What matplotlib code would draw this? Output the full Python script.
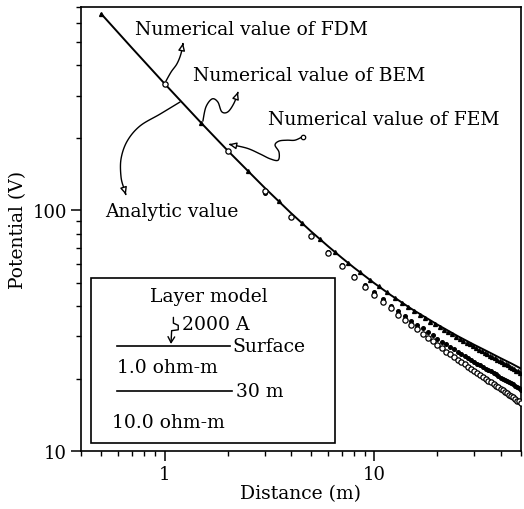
import matplotlib
matplotlib.use("Agg")
import matplotlib.pyplot as plt
import numpy as np
from matplotlib.patches import FancyArrowPatch, Rectangle
from matplotlib.path import Path
from matplotlib.ticker import NullFormatter

plt.rcParams["font.family"] = ["DejaVu Serif"]

# ---- data (distance in m, potential in V) ----
R_ANALYTIC = [0.5, 0.7, 1, 1.5, 2, 3, 4, 5, 6, 7, 8, 10, 12, 15, 20, 25, 30, 35, 40, 45, 50]
V_ANALYTIC = [654.7, 472.8, 336.4, 230.3, 177.2, 124.2, 97.6, 81.7, 71.1, 63.5, 57.8,
              49.8, 44.4, 39.0, 33.5, 30.0, 27.6, 25.8, 24.3, 23.1, 22.0]

# numerical series sampled every 1 m
R_INT = list(range(1, 51))
V_OPEN = [336.4, 176.3, 120.5, 94.2, 78.0, 66.8, 58.7, 52.7, 48.1, 44.6,
          41.6, 39.1, 36.9, 35.1, 33.5, 32.0, 30.7, 29.5, 28.6, 27.6,
          26.7, 25.9, 25.3, 24.5, 23.9, 23.4, 22.9, 22.3, 21.9, 21.4,
          21.0, 20.6, 20.3, 19.9, 19.6, 19.3, 19.0, 18.7, 18.4, 18.1,
          17.9, 17.6, 17.4, 17.1, 16.9, 16.7, 16.5, 16.2, 16.1, 15.9]
V_FILLED = [336.4, 176.3, 118.6, 93.7, 78.0, 67.2, 59.4, 53.6, 49.0, 45.6,
            42.7, 40.2, 38.1, 36.4, 34.8, 33.5, 32.3, 31.2, 30.2, 29.3,
            28.5, 27.8, 27.1, 26.5, 25.9, 25.4, 24.9, 24.4, 23.9, 23.5,
            23.1, 22.7, 22.4, 22.0, 21.7, 21.4, 21.1, 20.8, 20.5, 20.2,
            20.0, 19.8, 19.5, 19.3, 19.1, 18.9, 18.7, 18.4, 18.2, 18.0]

# third numerical series, offset by half a metre
R_HALF = [i + 0.5 for i in range(50)]
V_TRI = [654.7, 230.3, 145.4, 109.0, 88.8, 75.9, 67.0, 60.4, 55.4, 51.5,
         48.3, 45.6, 43.3, 41.4, 39.7, 38.2, 36.8, 35.7, 34.5, 33.6,
         32.7, 31.9, 31.2, 30.5, 29.8, 29.2, 28.7, 28.2, 27.8, 27.2,
         26.8, 26.4, 26.0, 25.6, 25.3, 24.9, 24.6, 24.3, 23.9, 23.7,
         23.4, 23.1, 22.9, 22.7, 22.3, 22.1, 21.9, 21.6, 21.4, 21.1]

TEXT_SIZE = 13.5


def smooth(pts, n=12):
    """Catmull-Rom through the given points (axes fraction)."""
    p = np.asarray(pts, float)
    p = np.vstack([p[0], p, p[-1]])
    out = []
    for i in range(1, len(p) - 2):
        p0, p1, p2, p3 = p[i - 1], p[i], p[i + 1], p[i + 2]
        for t in np.linspace(0, 1, n, endpoint=False):
            t2, t3 = t * t, t * t * t
            out.append(0.5 * ((2 * p1) + (-p0 + p2) * t
                              + (2 * p0 - 5 * p1 + 4 * p2 - p3) * t2
                              + (-p0 + 3 * p1 - 3 * p2 + p3) * t3))
    out.append(p[-2])
    return np.array(out)


def curvy_arrow(ax, pts, style="-|>,head_length=0.4,head_width=0.18"):
    verts = smooth(pts)
    arr = FancyArrowPatch(path=Path(verts), arrowstyle=style, mutation_scale=11,
                          lw=1.0, ec="black", fc="white",
                          transform=ax.transAxes, clip_on=False)
    ax.add_patch(arr)


fig = plt.figure(figsize=(5.24, 5.10), dpi=100)
ax = fig.add_axes([81 / 524, 1 - 452 / 510, 440 / 524, 444 / 510])

ax.plot(R_ANALYTIC, V_ANALYTIC, color="black", lw=1.4, zorder=3)
ax.plot(R_HALF, V_TRI, ls="none", marker="^", ms=2.8, color="black", zorder=4)
ax.plot(R_INT, V_FILLED, ls="none", marker="o", ms=2.6, color="black", zorder=4)
ax.plot(R_INT, V_OPEN, ls="none", marker="o", ms=3.8, mfc="white", mec="black",
        mew=0.9, zorder=5)

ax.set_xscale("log")
ax.set_yscale("log")
ax.set_xlim(0.4, 50)
ax.set_ylim(10, 700)
ax.set_xticks([1, 10])
ax.set_xticklabels(["1", "10"])
ax.set_yticks([10, 100])
ax.set_yticklabels(["10", "100"])
ax.xaxis.set_minor_formatter(NullFormatter())
ax.yaxis.set_minor_formatter(NullFormatter())
ax.tick_params(which="major", direction="out", length=7, width=1.1,
               labelsize=13, pad=3)
ax.tick_params(which="minor", direction="out", length=3.5, width=1.0)
for sp in ax.spines.values():
    sp.set_linewidth(1.2)

ax.set_xlabel("Distance (m)", fontsize=TEXT_SIZE, labelpad=1)
ax.set_ylabel("Potential (V)", fontsize=TEXT_SIZE, labelpad=4)

# ---- annotations ----
ax.text(0.123, 0.951, "Numerical value of FDM", transform=ax.transAxes,
        fontsize=TEXT_SIZE, va="center", ha="left")
ax.text(0.254, 0.847, "Numerical value of BEM", transform=ax.transAxes,
        fontsize=TEXT_SIZE, va="center", ha="left")
ax.text(0.425, 0.748, "Numerical value of FEM", transform=ax.transAxes,
        fontsize=TEXT_SIZE, va="center", ha="left")
ax.text(0.054, 0.541, "Analytic value", transform=ax.transAxes,
        fontsize=TEXT_SIZE, va="center", ha="left")

curvy_arrow(ax, [(0.193, 0.833), (0.205, 0.854), (0.218, 0.872), (0.227, 0.894),
                 (0.232, 0.919)])
curvy_arrow(ax, [(0.277, 0.743), (0.284, 0.775), (0.298, 0.793), (0.311, 0.786),
                 (0.320, 0.764), (0.334, 0.764), (0.348, 0.784), (0.357, 0.809)])
curvy_arrow(ax, [(0.502, 0.707), (0.486, 0.700), (0.468, 0.700), (0.450, 0.698),
                 (0.441, 0.689), (0.450, 0.673), (0.448, 0.655), (0.430, 0.658),
                 (0.407, 0.669), (0.377, 0.682), (0.336, 0.691)])
ax.plot([0.504], [0.708], transform=ax.transAxes, marker="o", ms=3.2,
        mfc="white", mec="black", mew=0.9, clip_on=False)
curvy_arrow(ax, [(0.225, 0.786), (0.180, 0.759), (0.134, 0.732), (0.105, 0.698),
                 (0.091, 0.658), (0.091, 0.617), (0.098, 0.590), (0.102, 0.577)])

# ---- layer model inset ----
ax.add_patch(Rectangle((0.023, 0.018), 0.554, 0.372, transform=ax.transAxes,
                       fill=True, fc="white", ec="black", lw=1.2, zorder=6))
inset = dict(transform=ax.transAxes, fontsize=TEXT_SIZE, zorder=7)
ax.text(0.291, 0.349, "Layer model", ha="center", va="center", **inset)
ax.text(0.2295, 0.286, "2000 A", ha="left", va="center", **inset)
ax.plot([0.082, 0.339], [0.2365, 0.2365], transform=ax.transAxes, color="black",
        lw=1.2, zorder=7)
ax.text(0.343, 0.2365, "Surface", ha="left", va="center", **inset)
ax.text(0.082, 0.189, "1.0 ohm-m", ha="left", va="center", **inset)
ax.plot([0.082, 0.343], [0.135, 0.135], transform=ax.transAxes, color="black",
        lw=1.2, zorder=7)
ax.text(0.352, 0.135, "30 m", ha="left", va="center", **inset)
ax.text(0.0705, 0.0653, "10.0 ohm-m", ha="left", va="center", **inset)
sq = [(0.210, 0.301), (0.210, 0.288), (0.221, 0.283), (0.221, 0.273),
      (0.206, 0.271), (0.2045, 0.241)]
ax.add_patch(FancyArrowPatch(path=Path(sq), arrowstyle="->,head_length=0.35,head_width=0.2",
                             mutation_scale=12, lw=1.0, color="black",
                             transform=ax.transAxes, zorder=7))

fig.savefig("out.png", dpi=100)
